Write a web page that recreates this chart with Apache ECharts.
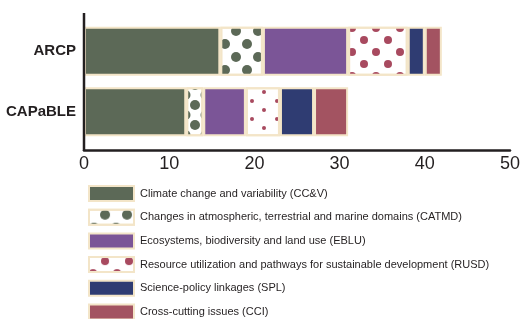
<!DOCTYPE html>
<html>
<head>
<meta charset="utf-8" />
<script src="https://cdn.jsdelivr.net/npm/echarts@6/dist/echarts.min.js"></script>
<style>
  html, body { margin: 0; padding: 0; background: #fff; }
  #chart { width: 521px; height: 319px; }
</style>
</head>
<body>
<div id="chart"></div>
<script>
const categories = ["ARCP", "CAPaBLE"];
const legendNames = [
  "Climate change and variability (CC&V)",
  "Changes in atmospheric, terrestrial and marine domains (CATMD)",
  "Ecosystems, biodiversity and land use (EBLU)",
  "Resource utilization and pathways for sustainable development (RUSD)",
  "Science-policy linkages (SPL)",
  "Cross-cutting issues (CCI)"
];
const ccvValues = [16, 12];
const catmdValues = [5, 2];
const ebluValues = [10, 5];
const rusdValues = [7, 4];
const splValues = [2, 4];
const cciValues = [2, 4];
const xTicks = [0, 10, 20, 30, 40, 50];

const FONT = '"Liberation Sans Narrow", "Liberation Sans", Arial, sans-serif';
const BORDER = "#f3e5c8";
const GREEN = "#5c6957";
const BERRY = "#a84a5f";

// dotted fills: big dots on ARCP, a different size on CAPaBLE
const catmdDecal = { symbol: "circle", symbolSize: 1, color: GREEN, dashArrayX: [[10, 12], [0, 11, 10, 1]], dashArrayY: [10, 3] };
const catmdDecalSmall = { symbol: "circle", symbolSize: 1, color: GREEN, dashArrayX: [[11, 9], [0, 10, 10, 0]], dashArrayY: [10, 0] };
const rusdDecal = { symbol: "circle", symbolSize: 1, color: BERRY, dashArrayX: [[8, 16], [0, 12, 8, 4]], dashArrayY: [8, 4] };
const rusdDecalSmall = { symbol: "circle", symbolSize: 1, color: BERRY, dashArrayX: [[4, 21], [0, 12, 4, 9]], dashArrayY: [4, 5] };

const makeSeries = (name, values, color, decal, decalSmall) => ({
  name,
  type: "bar",
  stack: "total",
  barWidth: 49,
  data: values.map((v, i) => (decalSmall && i === 1 ? { value: v, itemStyle: { decal: decalSmall } } : v)),
  itemStyle: {
    color,
    borderColor: BORDER,
    borderWidth: 2,
    decal: decal || undefined
  }
});

const option = {
  animation: false,
  backgroundColor: "#fff",
  textStyle: { fontFamily: FONT },
  grid: { left: 84, right: 11, top: 21, height: 121, outerBoundsMode: "none" },
  legend: {
    orient: "vertical",
    left: 88,
    top: 185,
    height: 200,
    padding: 0,
    itemWidth: 45,
    itemHeight: 15,
    itemGap: 6.7,
    selectedMode: false,
    icon: "rect",
    data: legendNames,
    textStyle: { fontFamily: FONT, fontSize: 11, color: "#231f20", padding: [0, 0, 0, 1] }
  },
  xAxis: {
    type: "value",
    min: 0,
    max: 50,
    interval: 10,
    offset: 8,
    splitLine: { show: false },
    axisTick: { show: false },
    axisLine: { show: true, lineStyle: { color: "#231f20", width: 2.5 } },
    axisLabel: {
      margin: 5,
      fontSize: 18,
      color: "#231f20",
      fontFamily: FONT,
      formatter: (v) => (xTicks.includes(v) ? String(v) : "")
    }
  },
  yAxis: {
    type: "category",
    inverse: true,
    data: categories,
    axisLine: { show: false },
    axisTick: { show: false },
    axisLabel: { margin: 8, fontSize: 15, fontWeight: "bold", color: "#231f20", fontFamily: FONT }
  },
  graphic: [
    {
      type: "line",
      shape: { x1: 84, y1: 13, x2: 84, y2: 151 },
      style: { stroke: "#231f20", lineWidth: 2.5 },
      z: 10
    }
  ],
  series: [
    makeSeries(legendNames[0], ccvValues, GREEN),
    makeSeries(legendNames[1], catmdValues, "#ffffff", catmdDecal, catmdDecalSmall),
    makeSeries(legendNames[2], ebluValues, "#7b5597"),
    makeSeries(legendNames[3], rusdValues, "#ffffff", rusdDecal, rusdDecalSmall),
    makeSeries(legendNames[4], splValues, "#2f3c72"),
    makeSeries(legendNames[5], cciValues, "#a35361")
  ]
};

const myChart = echarts.init(document.getElementById("chart"), null, { renderer: "canvas" });
myChart.setOption(option);
</script>
</body>
</html>
